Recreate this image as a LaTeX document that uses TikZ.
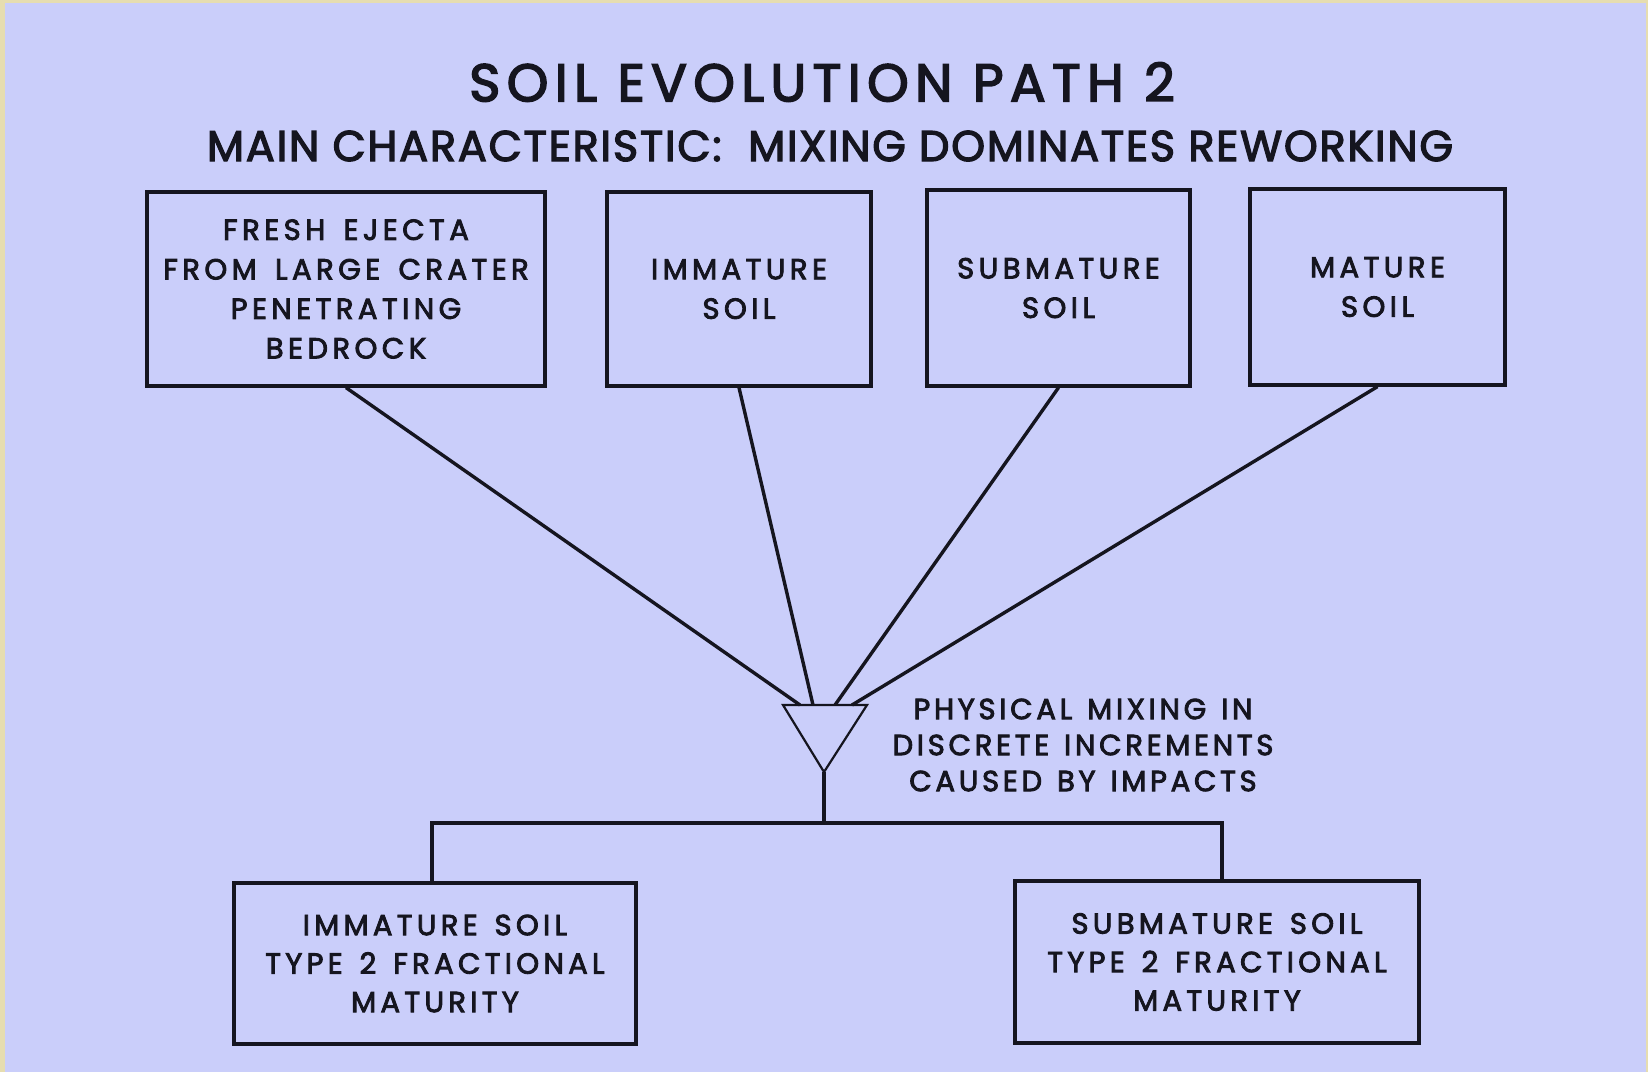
\documentclass[tikz,border=0pt]{standalone}
\usepackage{fontspec}
\setmainfont{Poppins}
\newfontfamily\titlefont[LetterSpace=12,FakeBold=3]{Poppins}
\newfontfamily\subfont[LetterSpace=4.2,FakeBold=3]{Poppins}
\newfontfamily\labfont[LetterSpace=15.5,WordSpace=1.5,FakeBold=3]{Poppins}
\newfontfamily\lowfont[LetterSpace=15,WordSpace=1.4,FakeBold=3]{Poppins}
\newfontfamily\mixfont[LetterSpace=13,WordSpace=1.3,FakeBold=3]{Poppins}
\definecolor{bgpaper}{HTML}{E6DDB0}
\definecolor{lav}{HTML}{CACEFA}
\definecolor{ink}{HTML}{15151F}
\tikzset{
  box/.style={draw=ink, line width=3.2pt, rectangle, inner sep=0pt, align=center,
     text=ink, font=\labfont\fontsize{29}{39.5}\selectfont},
  conn/.style={draw=ink, line width=3.4pt},
  tri/.style={draw=ink, line width=2.2pt, line join=miter},
  lbl/.style={text=ink, align=center, inner sep=0pt, font=\mixfont\fontsize{29}{36}\selectfont}
}
\begin{document}
\begin{tikzpicture}[x=1pt,y=-1pt]
\fill[bgpaper] (0,0) rectangle (1648,1072);
\fill[lav] (5,3) rectangle (1646,1072);
\useasboundingbox (0,0) rectangle (1648,1072);

\node[text=ink, inner sep=0pt, font=\titlefont\fontsize{53}{60}\selectfont] (title) at (822,82) {SOIL EVOLUTION PATH 2};
\node[text=ink, inner sep=0pt, font=\subfont\fontsize{43}{50}\selectfont] (sub) at (830,146) {MAIN CHARACTERISTIC:\ \ MIXING DOMINATES REWORKING};

\node[box, minimum width=398pt, minimum height=194pt] (b1) at (346,289) {FRESH EJECTA\\FROM LARGE CRATER\\PENETRATING\\BEDROCK};
\node[box, minimum width=264pt, minimum height=194pt] (b2) at (739,289) {IMMATURE\\SOIL};
\node[box, minimum width=263pt, minimum height=196pt] (b3) at (1058.5,288) {SUBMATURE\\SOIL};
\node[box, minimum width=255pt, minimum height=196pt] (b4) at (1377.5,287) {MATURE\\SOIL};

\node[box, minimum width=402pt, minimum height=161pt, font=\lowfont\fontsize{29}{38.5}\selectfont] (b5) at (435,963.5) {IMMATURE SOIL\\TYPE 2 FRACTIONAL\\MATURITY};
\node[box, minimum width=404pt, minimum height=162pt, font=\lowfont\fontsize{29}{38.5}\selectfont] (b6) at (1217,962) {SUBMATURE SOIL\\TYPE 2 FRACTIONAL\\MATURITY};

% mixing triangle
\coordinate (triL) at (783,705);
\coordinate (triR) at (867,705);
\coordinate (apex) at (824,772);
\coordinate (t1) at (800,705);
\coordinate (t2) at (813,705);
\coordinate (t3) at (835,705);
\coordinate (t4) at (852,705);
\coordinate (junc) at (824,823);
\coordinate (dl) at (432,823);
\coordinate (dr) at (1222,823);
\draw[tri] (triL) -- (triR) -- (apex) -- cycle;

\draw[conn] (b1.south) -- (t1);
\draw[conn] (b2.south) -- (t2);
\draw[conn] (b3.south) -- (t3);
\draw[conn] (b4.south) -- (t4);

\draw[conn] (apex) -- (junc);
\draw[conn] (dl |- b5.north) -- (dl) -- (dr) -- (dr |- b6.north);

\node[lbl] (mixlbl) at (1083,745) {PHYSICAL MIXING IN\\DISCRETE INCREMENTS\\CAUSED BY IMPACTS};
\end{tikzpicture}
\end{document}
